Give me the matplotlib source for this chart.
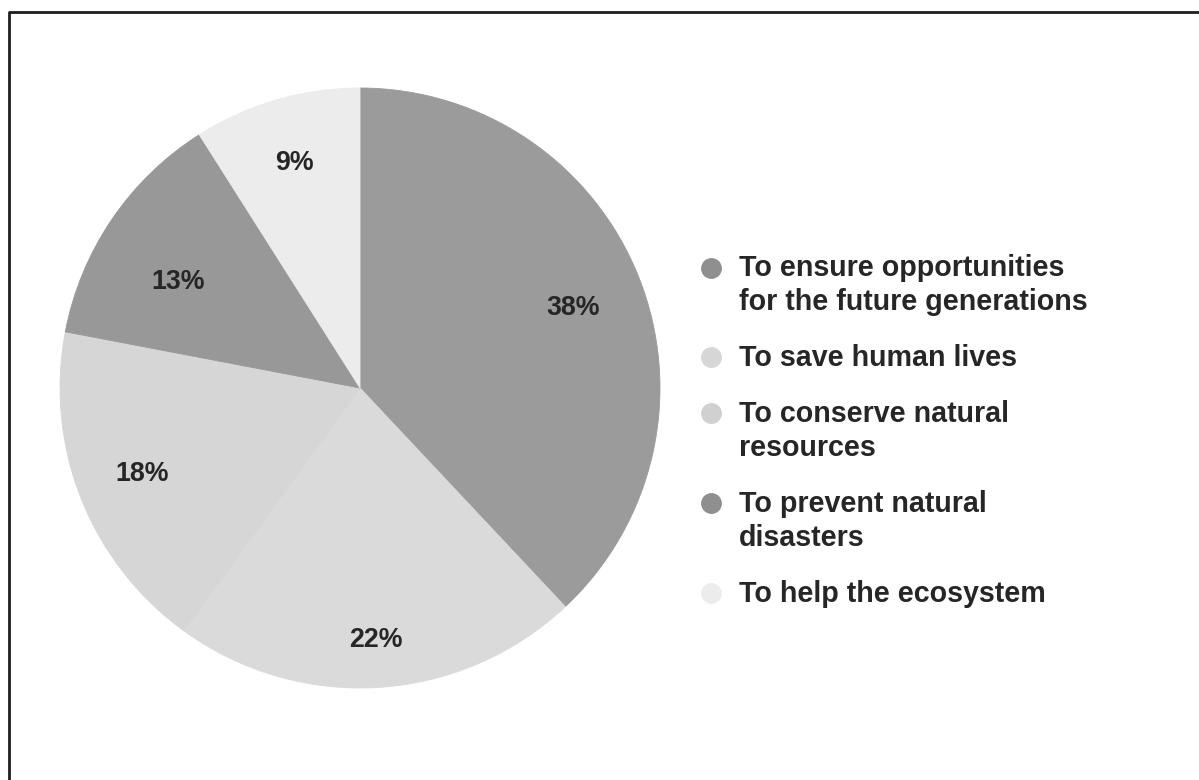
import matplotlib
matplotlib.use("Agg")
import matplotlib.pyplot as plt
from matplotlib.lines import Line2D
import numpy as np

# ---- data ----
categories = [
    "To ensure opportunities\nfor the future generations",
    "To save human lives",
    "To conserve natural\nresources",
    "To prevent natural\ndisasters",
    "To help the ecosystem",
]
values = [38, 22, 18, 13, 9]
slice_colors = ["#9b9b9b", "#dadada", "#d6d6d6", "#989898", "#ececec"]
marker_colors = ["#8f8f8f", "#d6d6d6", "#d0d0d0", "#8f8f8f", "#ececec"]
label_dist = [0.76, 0.84, 0.78, 0.70, 0.78]
label_angle_shift = [-1.0, 0.0, 0.0, 4.0, 0.0]  # degrees (counter-clockwise)

W, H = 1199, 780
fig = plt.figure(figsize=(W / 100, H / 100), dpi=100)
fig.patch.set_facecolor("white")

font = ["Liberation Sans", "DejaVu Sans"]

# pie axes: center (360,388) px, radius 300 px
cx, cy, r = 360, 388, 300
ax = fig.add_axes([(cx - r) / W, 1 - (cy + r) / H, 2 * r / W, 2 * r / H])
wedges, texts, autotexts = ax.pie(
    values,
    colors=slice_colors,
    startangle=90,
    counterclock=False,
    autopct=lambda p: f"{p:.0f}%",
    pctdistance=0.78,
    radius=1.0,
    wedgeprops=dict(linewidth=0.6),
    textprops=dict(fontsize=19.3, fontweight="bold", color="#262626", family=font),
)
for w, c in zip(wedges, slice_colors):
    w.set_edgecolor(c)
for w, t, d, s in zip(wedges, autotexts, label_dist, label_angle_shift):
    ang = np.deg2rad((w.theta1 + w.theta2) / 2 + s)
    t.set_position((d * np.cos(ang), d * np.sin(ang)))
ax.set_xlim(-1, 1)
ax.set_ylim(-1, 1)
ax.set_aspect("equal")
ax.axis("off")

# ---- legend (drawn manually so markers align with first line) ----
text_x = 739 / W
marker_x = 711 / W
first_baseline = 276
line_h = 34.5
entry_gap = 55.5
y = first_baseline
for lab, mc in zip(categories, marker_colors):
    lines = lab.split("\n")
    fig.add_artist(Line2D([marker_x], [1 - (y - 8.5) / H], marker="o",
                          markersize=14, markerfacecolor=mc,
                          markeredgecolor=mc, linestyle="none",
                          transform=fig.transFigure))
    for i, ln in enumerate(lines):
        fig.text(text_x, 1 - (y + i * line_h) / H, ln, fontsize=20.6,
                 fontweight="bold", color="#262626", family=font,
                 ha="left", va="baseline")
    y += (len(lines) - 1) * line_h + entry_gap

# ---- frame (open to the right/bottom, as cropped) ----
fx, fy = 8.5, 11.5
fig.add_artist(Line2D([fx / W, fx / W, 1.01], [-0.01, 1 - fy / H, 1 - fy / H],
                      color="#1e1e1e", linewidth=2.0, transform=fig.transFigure))

fig.savefig("out.png", dpi=100, facecolor="white")
